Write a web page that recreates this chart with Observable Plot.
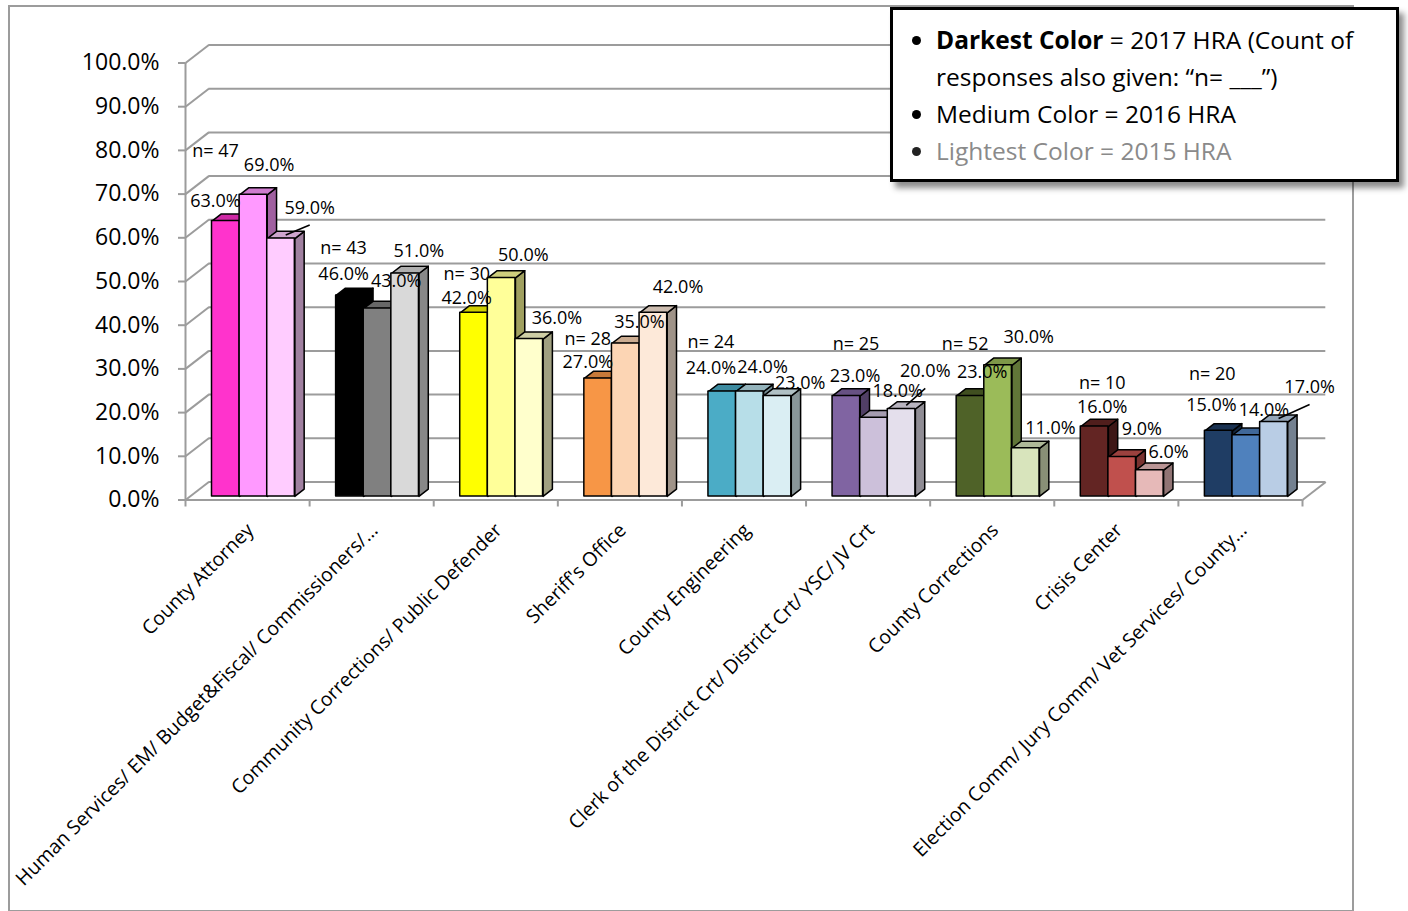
<!DOCTYPE html>
<html>
<head>
<meta charset="utf-8">
<script src="https://cdn.jsdelivr.net/npm/d3@7"></script>
<script src="https://cdn.jsdelivr.net/npm/@observablehq/plot@0.6"></script>
<style>
  html, body { margin: 0; padding: 0; background: #fff; }
  #wrap { position: relative; width: 1408px; height: 911px; overflow: hidden; font-family: "Open Sans", sans-serif; }
  #frame { position: absolute; left: 8px; top: 5px; width: 1342px; height: 903px; border: 2px solid #9c9c9c; }
  #chart { position: absolute; left: 0; top: 0; }
  #legend {
    position: absolute; left: 890px; top: 7px; width: 503px; height: 169px;
    border: 3px solid #000; background: #fff;
    box-shadow: 5px 6px 6px rgba(0,0,0,0.45);
    font-size: 24.5px; line-height: 37px; color: #000;
  }
  #legend ul { margin: 0; padding: 11px 0 0 43px; list-style: disc; }
  #legend li { white-space: nowrap; padding-left: 0; }
  #legend li.light { color: #8a8a8a; }
  #legend li.light::marker { color: #222; }
</style>
</head>
<body>
<div id="wrap">
  <div id="frame"></div>
  <div id="chart"></div>
  <div id="legend">
    <ul>
      <li><b>Darkest Color</b> = 2017 HRA (Count of<br>responses also given: “n= ___”)</li>
      <li>Medium Color = 2016 HRA</li>
      <li class="light">Lightest Color = 2015 HRA</li>
    </ul>
  </div>
</div>
<script>
// Departments surveyed
const categories = [
  "County Attorney",
  "Human Services/ EM/ Budget&Fiscal/ Commissioners/…",
  "Community Corrections/ Public Defender",
  "Sheriff's Office",
  "County Engineering",
  "Clerk of the District Crt/ District Crt/ YSC/ JV Crt",
  "County Corrections",
  "Crisis Center",
  "Election Comm/ Jury Comm/ Vet Services/ County…"
];
const years = ["2017", "2016", "2015"];

// Percent of respondents, by survey year
const pct2017 = [63, 46, 42, 27, 24, 23, 23, 16, 15];
const pct2016 = [69, 43, 50, 35, 24, 18, 30, 9, 14];
const pct2015 = [59, 51, 36, 42, 23, 20, 11, 6, 17];
// 2017 response counts
const nCounts = [47, 43, 30, 28, 24, 25, 52, 10, 20];

// y axis ticks
const yTicks = d3.range(0, 101, 10);

// Colour family per department: darkest (2017), medium (2016), lightest (2015)
const palette = [
  ["#ff33cc", "#ff99ff", "#ffccff"],
  ["#000000", "#808080", "#d9d9d9"],
  ["#ffff00", "#ffff99", "#ffffcc"],
  ["#f79646", "#fcd5b4", "#fde9d9"],
  ["#4bacc6", "#b7dee8", "#daeef3"],
  ["#8064a2", "#ccc0da", "#e4dfec"],
  ["#4f6228", "#9bbb59", "#d8e4bc"],
  ["#632523", "#c0504d", "#e6b9b8"],
  ["#1f3d64", "#4f81bd", "#b9cde5"]
];

// Hand-placed data label offsets (pixels from the centre of each bar's top face)
const labelOffsets = [
  [[-15, -16], [-11, -18], [-12, -11], [-15, -13], [-16, -20], [4, -16], [7, -20], [3, -16], [-12, -22]],
  [[11, -26], [14, -24], [17, -19], [9, -18], [8, -21], [19, -23], [26, -24], [15, -24], [13, -21]],
  [[24, -27], [9, -19], [23, -17], [20, -22], [18, -9], [19, -34], [20, -16], [14, -14], [31, -31]]
];
// labels pulled away from their bar get a leader line: [series, department]
const leaderLabels = [[2, 0], [2, 5], [2, 8]];
// "n=" labels, pixels from the 2017 value label
const nOffsets = [[0, -50], [0, -26], [0, -24], [0, -23], [0, -26], [1, -32], [-17, -28], [0, -24], [1, -31]];

// Layout of the pseudo-3D box (x in department units, y in percent units)
const W = 1408, H = 911;
const mL = 185, mR = 106, mT = 62.5, mB = 411.5;
const PXX = categories.length / (W - mL - mR);   // one pixel in x units
const PXY = 100 / (H - mT - mB);                  // one pixel in y units
const DX = 23.3 * PXX, DY = 18 * PXY;             // back wall depth
const GAP = 0.176, BW = 0.2225;                   // bar gap and width
const F0 = 0.2, FD = 0.4;                         // bar front depth and bar depth (share of wall)

const seriesValues = [pct2017, pct2016, pct2015];

const bars = [];
categories.forEach((cat, i) => {
  years.forEach((year, j) => {
    const v = seriesValues[j][i];
    const x1 = i + GAP + j * BW + F0 * DX;
    const x2 = x1 + BW;
    const y0 = F0 * DY;
    const top = v + F0 * DY;
    const bdx = FD * DX, bdy = FD * DY;
    const c = palette[i][j];
    const [ox, oy] = labelOffsets[j][i];
    const ax = (x1 + x2) / 2 + bdx / 2, ay = top + bdy / 2;
    bars.push({
      cat, i, j, year, v, x1, x2, y0, top, bdx, bdy, ax, ay,
      lx: ax + ox * PXX, ly: ay - oy * PXY,
      leader: leaderLabels.some(([s, d]) => s === j && d === i),
      fill: c,
      side: d3.color(c).darker(1.3).formatHex(),
      topFill: d3.color(c).darker(0.6).formatHex()
    });
  });
});

// Polygon vertices for side and top faces
const sidePts = bars.flatMap((b, k) => [
  [b.x2, b.y0], [b.x2, b.top], [b.x2 + b.bdx, b.top + b.bdy], [b.x2 + b.bdx, b.y0 + b.bdy]
].map(([x, y]) => ({x, y, z: k, fill: b.side})));
const topPts = bars.flatMap((b, k) => [
  [b.x1, b.top], [b.x2, b.top], [b.x2 + b.bdx, b.top + b.bdy], [b.x1 + b.bdx, b.top + b.bdy]
].map(([x, y]) => ({x, y, z: k, fill: b.topFill})));

const nLabels = bars.filter(b => b.j === 0).map(b => ({
  text: "n= " + nCounts[b.i],
  x: b.lx + nOffsets[b.i][0] * PXX,
  y: b.ly - nOffsets[b.i][1] * PXY
}));

const grey = "#9c9c9c";

const chart = Plot.plot({
  width: W, height: H,
  marginLeft: mL, marginRight: mR, marginTop: mT, marginBottom: mB,
  x: {domain: [0, categories.length], axis: null},
  y: {domain: [0, 100], axis: null},
  color: {type: "identity"},
  style: {background: "transparent", overflow: "visible", fontFamily: "Open Sans, sans-serif", color: "#000"},
  marks: [
    // back wall grid and side wall diagonals
    Plot.ruleY(yTicks, {y: d => d + DY, x1: DX, x2: categories.length + DX, stroke: grey, strokeWidth: 2}),
    Plot.link(yTicks, {x1: 0, y1: d => d, x2: DX, y2: d => d + DY, stroke: grey, strokeWidth: 2}),
    Plot.link([0], {x1: categories.length, y1: 0, x2: categories.length + DX, y2: DY, stroke: grey, strokeWidth: 2}),
    // front axes
    Plot.ruleX([0], {y1: 0, y2: 100, stroke: grey, strokeWidth: 2}),
    Plot.ruleY(yTicks, {y: d => d, x1: -7 * PXX, x2: 0, stroke: grey, strokeWidth: 2}),
    Plot.ruleY([0], {x1: 0, x2: categories.length, stroke: grey, strokeWidth: 2}),
    Plot.ruleX(d3.range(categories.length + 1), {x: d => d, y1: 0, y2: -7 * PXY, stroke: grey, strokeWidth: 2}),
    // bars: side faces, top faces, front faces
    Plot.line(sidePts, {x: "x", y: "y", z: "z", fill: "fill", stroke: "#000", strokeWidth: 1.5, curve: "linear-closed", strokeLinejoin: "round"}),
    Plot.line(topPts, {x: "x", y: "y", z: "z", fill: "fill", stroke: "#000", strokeWidth: 1.5, curve: "linear-closed", strokeLinejoin: "round"}),
    Plot.rect(bars, {x1: "x1", x2: "x2", y1: "y0", y2: "top", fill: "fill", stroke: "#000", strokeWidth: 1.5, strokeLinejoin: "round"}),
    // leader lines for displaced labels
    Plot.link(bars.filter(b => b.leader), {x1: "ax", y1: "ay", x2: "lx", y2: b => b.ly - 17 * PXY, stroke: "#000", strokeWidth: 1.5}),
    // value labels
    Plot.text(bars, {x: "lx", y: "ly", text: b => b.v.toFixed(1) + "%", fontSize: 18, fill: "#000"}),
    Plot.text(nLabels, {x: "x", y: "y", text: "text", fontSize: 18, fill: "#000"}),
    // y tick labels
    Plot.text(yTicks, {x: 0, y: d => d, text: d => d.toFixed(1) + "%", textAnchor: "end", dx: -26, fontSize: 23, fill: "#000"}),
    // department labels
    Plot.text(categories, {x: (d, i) => i + 0.5, y: 0, text: d => d, rotate: -45, textAnchor: "end", dx: 3, dy: 27, fontSize: 19.5, fill: "#000"})
  ]
});
document.getElementById("chart").appendChild(chart);
</script>
</body>
</html>
